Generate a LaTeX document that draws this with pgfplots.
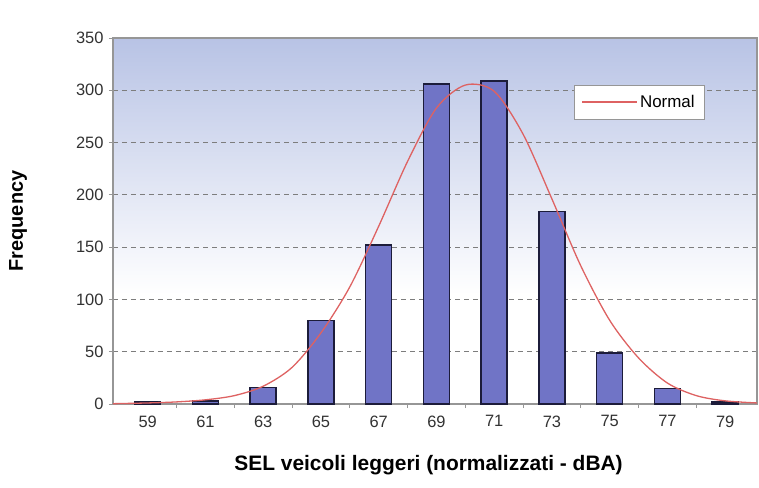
\documentclass[border=0pt]{standalone}
\usepackage{pgfplots}
\pgfplotsset{compat=1.18}
\usepackage{fontspec}
\setmainfont{Liberation Sans}

\definecolor{bgblue}{RGB}{184,195,229}
\definecolor{barfill}{RGB}{112,116,198}
\definecolor{baredge}{RGB}{28,28,58}
\definecolor{curvered}{RGB}{222,98,98}
\definecolor{framegray}{RGB}{150,150,150}
\definecolor{gridgray}{RGB}{125,125,125}
\definecolor{ticktext}{RGB}{50,50,50}

% plot area: white in the lower part, fading to light blue at the top
\pgfdeclareverticalshading{plotbg}{100bp}{color(0bp)=(white); color(25bp)=(white); color(40bp)=(white); color(75bp)=(bgblue); color(100bp)=(bgblue)}

\begin{document}
\begin{tikzpicture}
\begin{axis}[
  scale only axis,
  width=644bp, height=366bp,
  xmin=57.8, xmax=80.1,
  ymin=0, ymax=350,
  axis background/.style={shading=plotbg},
  axis line style={framegray, line width=1.2pt},
  ytick={0,50,...,350},
  xtick={59,61,...,79},
  minor xtick={60,62,...,78},
  xtick pos=bottom, ytick pos=left,
  tick align=outside,
  major tick length=4bp,
  minor tick length=4bp,
  major x tick style={draw=none},
  tick style={framegray, line width=1pt},
  ymajorgrids,
  grid style={gridgray, line width=1.1pt, dash pattern=on 5bp off 4bp},
  /pgf/number format/assume math mode=true,
  ticklabel style={font=\fontsize{16.5}{18}\selectfont, text=ticktext},
  yticklabel style={xshift=-2bp},
  xticklabel style={yshift=-4bp},
  xlabel={\bfseries SEL veicoli leggeri (normalizzati - dBA)},
  ylabel={\bfseries Frequency},
  label style={text=black},
  xlabel style={font=\fontsize{21}{24}\selectfont, at={(axis description cs:0.49,-0.167)}, anchor=center},
  ylabel style={font=\fontsize{20}{23}\selectfont, at={(axis description cs:-0.1475,0.5)}, anchor=center},
  legend style={at={(0.919,0.872)}, anchor=north east, draw=framegray,
    fill=white, font=\fontsize{17}{20}\selectfont, inner xsep=8bp, inner ysep=8bp,
    legend cell align=left},
  legend image code/.code={\draw[#1, line width=1.2pt] (0bp,0bp) -- (55bp,0bp);},
]
% histogram of SEL values
\addplot[ybar, bar width=0.9, fill=barfill, draw=baredge, line width=1.5pt, forget plot]
  coordinates {(59,2) (61,3) (63,16) (65,80) (67,152) (69,306) (71,309) (73,184) (75,49) (77,15) (79,2)};
% fitted normal curve
\addplot[curvered, line width=1.3pt, smooth, no marks]
  coordinates {(57.8,0.3) (59,1) (60,2) (61,4) (62,8) (63,17) (64,35) (65,68) (66,112)
    (67,170) (68,232) (69,283) (70,305) (71,299) (72,258) (73,196) (74,132)
    (75,80) (76,44) (77,20) (78,8) (79,3) (80.1,1)};
\addlegendentry{Normal}
\end{axis}
\pgfresetboundingbox
\path (-113bp,-84bp) rectangle (646bp,404bp);
\end{tikzpicture}
\end{document}
